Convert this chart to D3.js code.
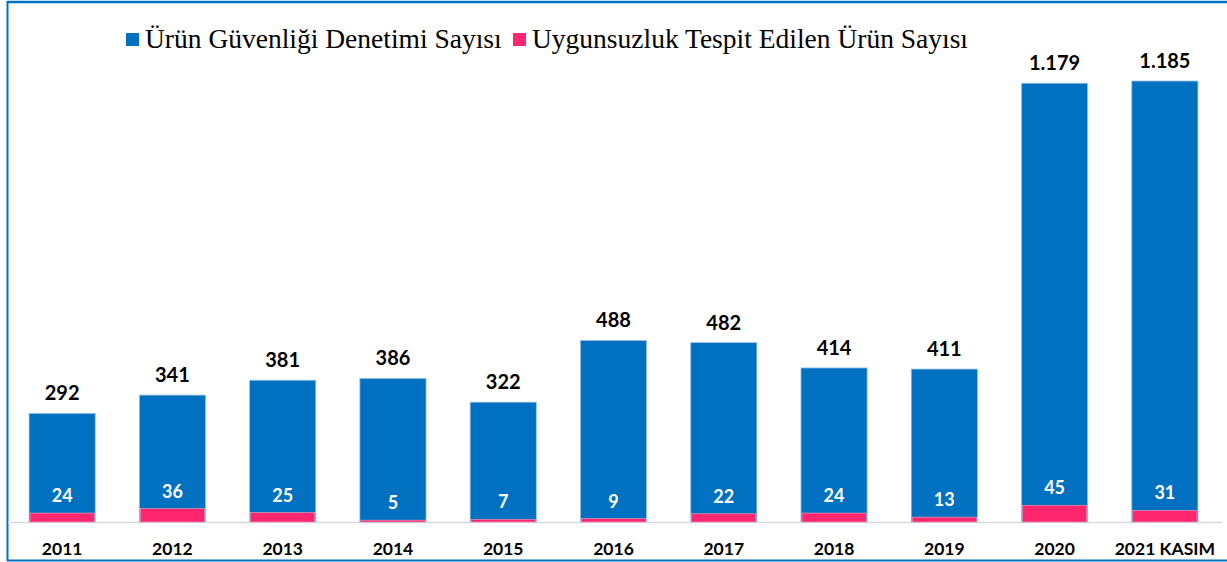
<!DOCTYPE html>
<html>
<head>
<meta charset="utf-8">
<title>Ürün Güvenliği Denetimi</title>
<script src="https://cdn.jsdelivr.net/npm/d3@7"></script>
<style>
  body { margin: 0; background: #fff; }
  #chart { width: 1227px; height: 562px; }
  .lbl-top { font-family: Lato, "Open Sans", sans-serif; font-weight: 700; font-size: 20px; fill: #000; }
  .lbl-in { font-family: Lato, "Open Sans", sans-serif; font-weight: 700; font-size: 18px; fill: #fff; }
  .xlab { font-family: Lato, "Open Sans", sans-serif; font-weight: 700; font-size: 17.5px; fill: #000; }
  .legend text { font-family: "Liberation Serif", "DejaVu Serif", serif; font-size: 27.5px; fill: #000; }
</style>
</head>
<body>
<div id="chart"></div>
<script>
// data
var years = ['2011', '2012', '2013', '2014', '2015', '2016', '2017', '2018', '2019', '2020', '2021 KASIM'];
var denetim = [292, 341, 381, 386, 322, 488, 482, 414, 411, 1179, 1185];
var uygunsuz = [24, 36, 25, 5, 7, 9, 22, 24, 13, 45, 31];
var seriesNames = ['Ürün Güvenliği Denetimi Sayısı', 'Uygunsuzluk Tespit Edilen Ürün Sayısı'];

var width = 1227, height = 562;
var blue = '#0070C0', pink = '#FF2670';

var svg = d3.select('#chart').append('svg')
  .attr('width', width)
  .attr('height', height);

// frame
svg.append('line').attr('x1', 7).attr('x2', width).attr('y1', 2).attr('y2', 2)
  .attr('stroke', blue).attr('stroke-width', 2.5);
svg.append('line').attr('x1', 7.5).attr('x2', 7.5).attr('y1', 1).attr('y2', 561)
  .attr('stroke', blue).attr('stroke-width', 2);
svg.append('line').attr('x1', 7).attr('x2', width).attr('y1', 560.5).attr('y2', 560.5)
  .attr('stroke', blue).attr('stroke-width', 2);

var x = d3.scaleBand()
  .domain(years)
  .range([7, 1220])
  .paddingInner(0.4)
  .paddingOuter(0.2);

var y = d3.scaleLinear()
  .domain([0, 1185])
  .range([522, 81]);

// axis baseline
svg.append('line')
  .attr('x1', 8).attr('x2', 1222)
  .attr('y1', 522.5).attr('y2', 522.5)
  .attr('stroke', '#d9d9d9').attr('stroke-width', 1.5);

var rows = years.map(function(d, i) {
  return { year: d, total: denetim[i], bad: uygunsuz[i] };
});

var fmt = function(v) { return d3.format(',')(v).replace(/,/g, '.'); };

// blue bars
svg.selectAll('.bar-blue')
  .data(rows).enter()
  .append('rect')
  .attr('class', 'bar-blue')
  .attr('x', function(d) { return x(d.year); })
  .attr('width', x.bandwidth())
  .attr('y', function(d) { return y(d.total); })
  .attr('height', function(d) { return y(0) - y(d.total); })
  .attr('fill', blue)
  .attr('stroke', '#9dc3e6')
  .attr('stroke-width', 0.8);

// pink bars overlapping
svg.selectAll('.bar-pink')
  .data(rows).enter()
  .append('rect')
  .attr('class', 'bar-pink')
  .attr('x', function(d) { return x(d.year) + 1; })
  .attr('width', x.bandwidth() - 2)
  .attr('y', function(d) { return y(d.bad); })
  .attr('height', function(d) { return y(0) - y(d.bad); })
  .attr('fill', pink)
  .attr('stroke', '#f4a6c0')
  .attr('stroke-width', 0.6);

// total labels
svg.selectAll('.lbl-top')
  .data(rows).enter()
  .append('text')
  .attr('class', 'lbl-top')
  .attr('x', function(d) { return x(d.year) + x.bandwidth() / 2; })
  .attr('y', function(d) { return y(d.total) - 13; })
  .attr('text-anchor', 'middle')
  .text(function(d) { return fmt(d.total); });

// inner labels
svg.selectAll('.lbl-in')
  .data(rows).enter()
  .append('text')
  .attr('class', 'lbl-in')
  .attr('x', function(d) { return x(d.year) + x.bandwidth() / 2; })
  .attr('y', function(d) { return y(d.bad) - 11; })
  .attr('text-anchor', 'middle')
  .text(function(d) { return d.bad; });

// x labels
svg.selectAll('.xlab')
  .data(years).enter()
  .append('text')
  .attr('class', 'xlab')
  .attr('x', function(d) { return x(d) + x.bandwidth() / 2; })
  .attr('y', 555)
  .attr('text-anchor', 'middle')
  .text(function(d) { return d; });

// legend
var legend = svg.append('g').attr('class', 'legend');
var lx = [126, 513];
[blue, pink].forEach(function(c, i) {
  legend.append('rect')
    .attr('x', lx[i]).attr('y', 33)
    .attr('width', 13).attr('height', 13)
    .attr('fill', c);
  legend.append('text')
    .attr('x', lx[i] + 19).attr('y', 48)
    .text(seriesNames[i]);
});
</script>
</body>
</html>
